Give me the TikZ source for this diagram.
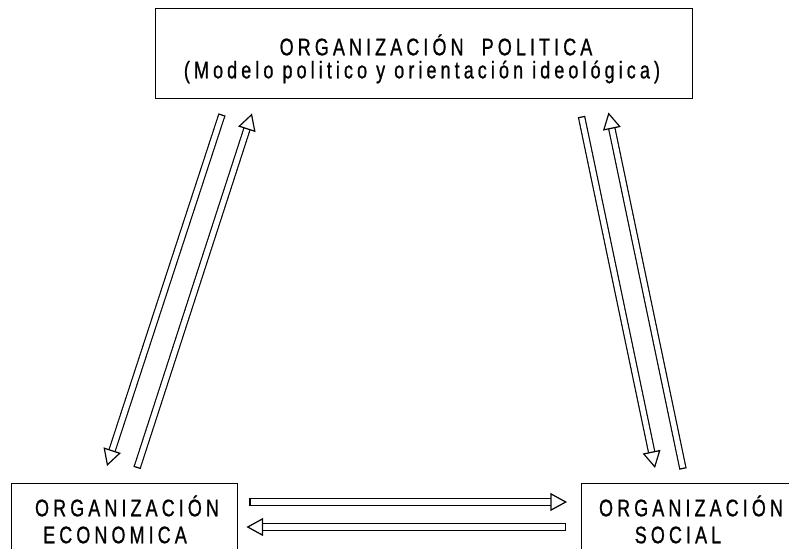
\documentclass[tikz,border=0pt]{standalone}
\usepackage{fontspec}
\setmainfont{Liberation Sans}
\newfontfamily\techfont{Liberation Sans}[FakeStretch=0.75,LetterSpace=17,FakeBold=0.8]
\usetikzlibrary{arrows.meta,positioning,calc}

\tikzset{
  orgbox/.style={draw, line width=1.1pt, rectangle, inner sep=0pt},
  orgtext/.style={font=\techfont\fontsize{18}{21}\selectfont, inner sep=0pt},
  flecha/.style={double, double distance=3.8pt, line width=0.9pt,
    {Bar[width=5.6pt,line width=0.9pt]}-{Triangle[open,length=12.5pt,width=13.5pt,line width=0.9pt]}},
}

\begin{document}
\begin{tikzpicture}[x=0.75pt, y=-0.75pt]
  \useasboundingbox (0,0) rectangle (789,549);

  % cajas
  \node[orgbox, minimum width=402.75pt, minimum height=67.5pt, anchor=north west] (politica) at (155,8) {};
  \node[orgbox, minimum width=169.5pt, minimum height=60pt, anchor=north west] (economica) at (11,483) {};
  \node[orgbox, minimum width=172.5pt, minimum height=60pt, anchor=north west] (social) at (581,483) {};

  % textos
  \node[orgtext] (politicaA) at (436,45) {ORGANIZACIÓN\ \ POLITICA};
  \node[orgtext] (politicaB) at (422,72) {(Modelo politico y orientación ideológica)};
  \node[orgtext] (economicaA) at (127,506) {ORGANIZACIÓN};
  \node[orgtext] (economicaB) at (115,535) {ECONOMICA};
  \node[orgtext] (socialA) at (691,506) {ORGANIZACIÓN};
  \node[orgtext] (socialB) at (678,535) {SOCIAL};

  % flechas
  \draw[flecha] ($(politica.south west)+(67,15)$) -- ($(economica.north west)+(96,-17)$);
  \draw[flecha] ($(economica.north west)+(126,-15)$) -- ($(politica.south west)+(97,14)$);
  \draw[flecha] ($(politica.south east)+(-112,17)$) -- ($(social.north west)+(74,-15)$);
  \draw[flecha] ($(social.north west)+(102,-14)$) -- ($(politica.south east)+(-85,13)$);
  \draw[flecha] ($(economica.north east)+(11,19)$) -- ($(social.north west)+(-14,19)$);
  \draw[flecha] ($(social.north west)+(-15,44)$) -- ($(economica.north east)+(8,44)$);
\end{tikzpicture}
\end{document}
